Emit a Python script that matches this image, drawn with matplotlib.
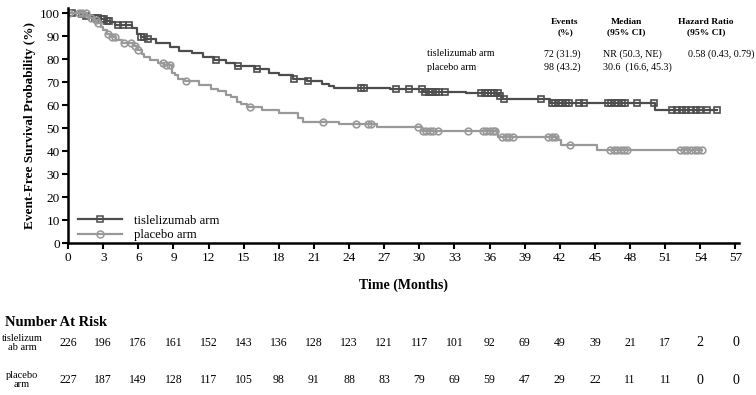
import numpy as np
import matplotlib.pyplot as plt
from matplotlib.transforms import blended_transform_factory

plt.rcParams['font.family'] = ['Liberation Serif', 'DejaVu Serif']

# step curves: (time in months, survival % after the drop)
tis_t = [0, 1.0, 1.5, 2.2, 2.8, 3.3, 3.6, 4.0, 5.5, 5.9, 6.2, 6.6, 7.5, 8.7, 9.5,
         10.6, 11.5, 12.5, 13.5, 14.3, 16.0, 17.2, 18.0, 19.2, 20.4, 21.7, 22.3,
         22.7, 27.5, 30.3, 34.0, 36.8, 37.1, 41.2, 50.1]
tis_s = [100, 99.4, 98.7, 98.0, 97.3, 96.6, 96.0, 95.0, 93.5, 91.0, 89.7, 88.5,
         86.8, 85.4, 83.5, 82.5, 81.0, 79.8, 78.2, 76.8, 75.5, 73.8, 73.0, 71.5,
         70.3, 69.3, 68.5, 67.6, 66.9, 65.8, 65.1, 63.8, 62.8, 61.0, 57.9]
tis_cens = [0.3, 1.2, 1.5, 2.3, 2.6, 2.9, 3.1, 3.3, 3.5, 4.3, 4.7, 5.2, 6.2, 6.5,
            6.8, 12.6, 14.5, 16.1, 19.3, 20.5, 25.0, 25.3, 28.0, 29.1, 30.2, 30.5,
            30.8, 31.1, 31.4, 31.7, 32.2, 35.3, 35.6, 35.9, 36.1, 36.4, 36.7, 36.9,
            37.2, 40.4, 41.3, 41.6, 41.9, 42.2, 42.5, 42.8, 43.6, 44.1, 46.1, 46.4,
            46.7, 47.0, 47.3, 47.6, 48.6, 50.0, 51.6, 52.0, 52.4, 52.8, 53.2, 53.6,
            54.0, 54.6, 55.4]

pla_t = [0, 1.6, 1.9, 2.2, 2.5, 2.8, 3.0, 3.3, 3.7, 4.1, 4.6, 5.6, 5.9, 6.3, 6.5,
         7.0, 7.7, 8.2, 8.9, 9.1, 9.4, 10.0, 11.2, 12.2, 12.8, 13.5, 13.9, 14.4,
         14.8, 15.3, 16.6, 18.0, 19.6, 20.1, 23.1, 26.4, 30.2, 36.7, 41.8, 42.1, 45.2]
pla_s = [100, 99.0, 98.0, 97.0, 95.5, 94.0, 92.6, 90.8, 89.4, 88.3, 86.8, 85.5,
         84.0, 82.0, 81.0, 79.6, 78.2, 77.4, 74.0, 73.0, 71.5, 70.5, 68.7, 67.0,
         66.0, 64.5, 63.5, 61.5, 60.5, 59.3, 57.8, 56.4, 54.5, 52.8, 51.7, 50.6,
         48.8, 46.2, 45.0, 42.7, 40.5]
pla_cens = [0.1, 0.9, 1.2, 1.5, 2.0, 2.4, 2.6, 3.4, 3.8, 4.0, 4.8, 5.4, 5.7, 6.0,
            8.1, 8.4, 8.7, 10.1, 15.5, 21.8, 24.6, 25.6, 25.9, 29.9, 30.3, 30.6,
            30.9, 31.2, 31.6, 34.2, 35.4, 35.7, 36.0, 36.3, 36.5, 37.1, 37.4, 37.7,
            38.0, 41.0, 41.3, 41.6, 42.9, 46.3, 46.6, 46.9, 47.2, 47.5, 47.7, 52.3,
            52.6, 52.9, 53.2, 53.5, 53.8, 54.1]

risk_times = list(range(0, 58, 3))
risk_tis = [226, 196, 176, 161, 152, 143, 136, 128, 123, 121, 117, 101, 92, 69,
            49, 39, 21, 17, 2, 0]
risk_pla = [227, 187, 149, 128, 117, 105, 98, 91, 88, 83, 79, 69, 59, 47, 29, 22,
            11, 11, 0, 0]

arms = ['tislelizumab arm', 'placebo arm']
events = ['72 (31.9)', '98 (43.2)']
medians = ['NR (50.3, NE)', '30.6  (16.6, 45.3)']
hazard = '0.58 (0.43, 0.79)'

dark = '#4d4d4d'
light = '#999999'

W, H = 756, 395
fig = plt.figure(figsize=(W / 100, H / 100), dpi=100)
ax = fig.add_axes([68 / W, 1 - 243.3 / H, 671 / W, 234.9 / H])


def km(t, s, cens, color, marker, label):
    t_end = max(cens)
    ax.step(t + [t_end], s + [s[-1]], where='post', color=color, lw=1.6)
    idx = np.searchsorted(t, cens, side='right') - 1
    ax.plot(cens, np.array(s)[idx], ls='none', marker=marker, ms=4.8,
            mfc='none', mec=color, mew=1.2)
    ax.plot([], [], color=color, lw=1.6, marker=marker, ms=5, mfc='none',
            mec=color, mew=1.1, label=label)


km(tis_t, tis_s, tis_cens, dark, 's', arms[0])
km(pla_t, pla_s, pla_cens, light, 'o', arms[1])

ax.set_xlim(0, 57.3)
ax.set_ylim(0, 102)
ax.set_xticks(risk_times)
ax.set_yticks(range(0, 101, 10))
for side in ['top', 'right']:
    ax.spines[side].set_visible(False)
for side in ['left', 'bottom']:
    ax.spines[side].set_linewidth(1.8)
ax.tick_params(direction='out', length=4, width=1.5, labelsize=9.5, pad=2)
ax.set_xlabel('Time (Months)', fontsize=10, fontweight='bold', labelpad=11)
ax.set_ylabel('Event-Free Survival Probability (%)', fontsize=9.5,
              fontweight='bold', labelpad=3)

ax.legend(loc='lower left', bbox_to_anchor=(0.0, -0.035), frameon=False,
          fontsize=9.2, handlelength=3.4, handletextpad=1.0, borderpad=0.3,
          labelspacing=0.2)

# summary table at top right
def fx(x):
    return x / W


def fy(y):
    return 1 - y / H


for x, head in [(565, 'Events\n(%)'), (626, 'Median\n(95% CI)'),
                (706, 'Hazard Ratio\n(95% CI)')]:
    fig.text(fx(x), fy(27), head, ha='center', va='center', fontsize=6.8,
             fontweight='bold', linespacing=1.3)
for i, y in enumerate([54, 67]):
    fig.text(fx(427), fy(y), arms[i], ha='left', va='center', fontsize=7.2)
    fig.text(fx(581), fy(y), events[i], ha='right', va='center', fontsize=7.2)
    fig.text(fx(603), fy(y), medians[i], ha='left', va='center', fontsize=7.2)
fig.text(fx(688), fy(54), hazard, ha='left', va='center', fontsize=7.2)

# number at risk
fig.text(fx(5), fy(322), 'Number At Risk', ha='left', va='center', fontsize=10.5,
         fontweight='bold')
fig.text(fx(22), fy(343), 'tislelizum\nab arm', ha='center', va='center',
         fontsize=7.5, linespacing=1.0)
fig.text(fx(22), fy(380), 'placebo\narm', ha='center', va='center',
         fontsize=7.5, linespacing=1.0)
tr = blended_transform_factory(ax.transData, fig.transFigure)
for t, a, b in zip(risk_times, risk_tis, risk_pla):
    size = 10 if t >= 54 else 8.5
    ax.text(t, fy(343), str(a), transform=tr, ha='center', va='center',
            fontsize=size)
    ax.text(t, fy(380), str(b), transform=tr, ha='center', va='center',
            fontsize=size)

fig.savefig('out.png', dpi=100)
